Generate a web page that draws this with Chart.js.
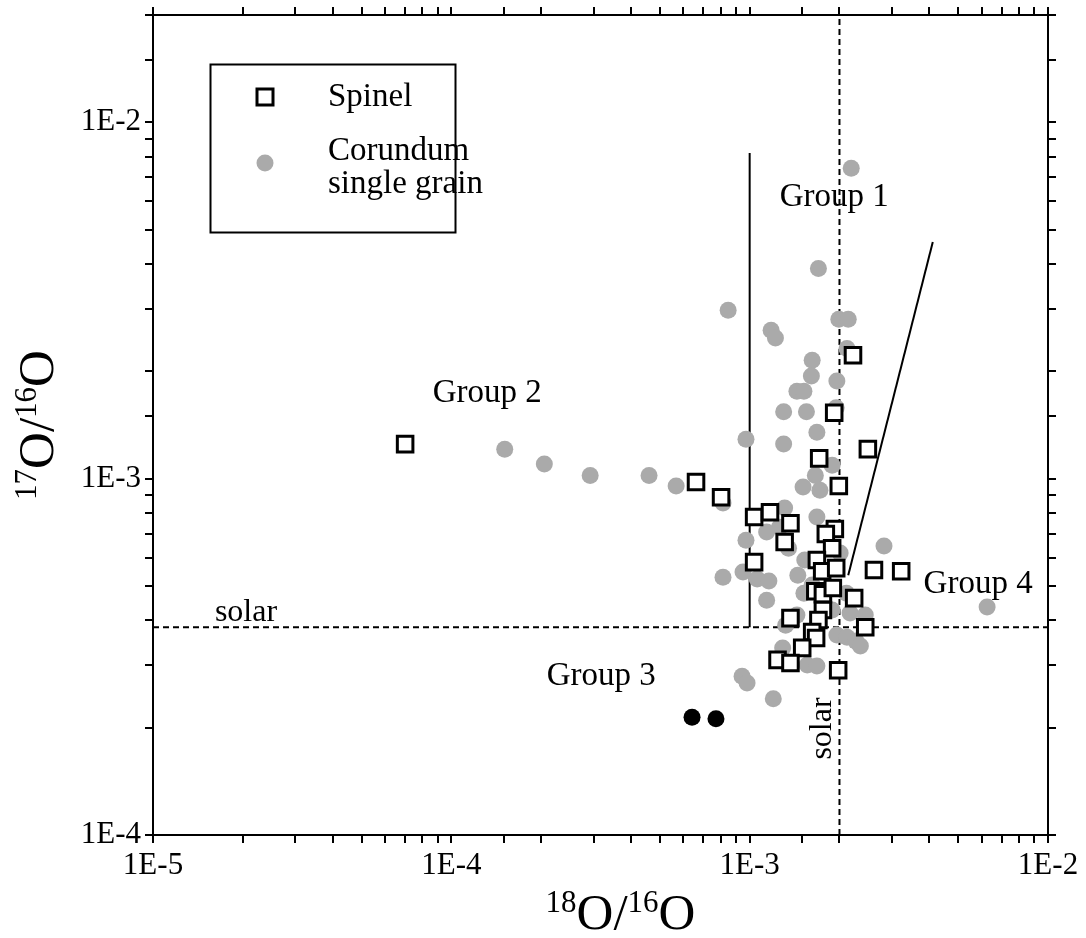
<!DOCTYPE html>
<html>
<head>
<meta charset="utf-8">
<script src="https://cdn.jsdelivr.net/npm/chart.js@4.4.0/dist/chart.umd.min.js"></script>
<style>
  html, body { margin: 0; padding: 0; background: #fff; }
</style>
</head>
<body>
<canvas id="myChart" width="1086" height="938"></canvas>
<script>
// spinel grains (open squares)
const spinelX = [7.0e-5, 2.22e-3, 1.92e-3, 2.49e-3, 1.71e-3, 1.99e-3, 6.61e-4, 8.02e-4, 1.035e-3, 1.17e-3,
  1.37e-3, 1.31e-3, 1.035e-3, 1.93e-3, 1.80e-3, 1.89e-3, 1.68e-3, 1.75e-3, 1.95e-3, 2.61e-3,
  3.22e-3, 1.66e-3, 1.76e-3, 1.90e-3, 2.24e-3, 1.76e-3, 1.37e-3, 1.70e-3, 2.44e-3, 1.62e-3,
  1.67e-3, 1.50e-3, 1.24e-3, 1.37e-3, 1.98e-3];
const spinelY = [1.25e-3, 2.22e-3, 1.53e-3, 1.21e-3, 1.14e-3, 9.53e-4, 9.78e-4, 8.87e-4, 7.80e-4, 8.05e-4,
  7.50e-4, 6.64e-4, 5.83e-4, 7.22e-4, 6.99e-4, 6.38e-4, 5.91e-4, 5.50e-4, 5.61e-4, 5.54e-4,
  5.50e-4, 4.83e-4, 4.74e-4, 4.93e-4, 4.62e-4, 4.28e-4, 4.06e-4, 4.01e-4, 3.83e-4, 3.71e-4,
  3.57e-4, 3.35e-4, 3.10e-4, 3.04e-4, 2.90e-4];

// corundum single grains (grey dots)
const corundumX = [1.51e-4, 2.05e-4, 2.92e-4, 4.60e-4, 5.67e-4, 2.19e-3, 1.70e-3, 8.47e-4, 1.18e-3, 1.22e-3,
  1.99e-3, 2.14e-3, 2.12e-3, 1.62e-3, 1.61e-3, 1.96e-3, 1.44e-3, 1.52e-3, 1.30e-3, 1.55e-3,
  1.95e-3, 1.68e-3, 9.72e-4, 1.30e-3, 1.89e-3, 1.66e-3, 1.51e-3, 1.72e-3, 8.14e-4, 1.31e-3,
  1.68e-3, 1.26e-3, 1.14e-3, 9.72e-4, 1.35e-3, 2.82e-3, 1.53e-3, 2.01e-3, 8.14e-4, 9.50e-4,
  1.06e-3, 1.16e-3, 1.45e-3, 1.62e-3, 1.14e-3, 1.52e-3, 2.11e-3, 2.17e-3, 2.44e-3, 1.89e-3,
  1.44e-3, 1.32e-3, 1.96e-3, 2.12e-3, 2.27e-3, 2.35e-3, 1.29e-3, 1.56e-3, 1.68e-3, 9.43e-4,
  9.80e-4, 1.20e-3, 6.25e-3];
const corundumY = [1.21e-3, 1.10e-3, 1.02e-3, 1.02e-3, 9.53e-4, 7.43e-3, 3.89e-3, 2.97e-3, 2.61e-3, 2.48e-3,
  2.80e-3, 2.80e-3, 2.32e-3, 2.15e-3, 1.94e-3, 1.88e-3, 1.76e-3, 1.76e-3, 1.54e-3, 1.54e-3,
  1.58e-3, 1.35e-3, 1.29e-3, 1.25e-3, 1.09e-3, 1.02e-3, 9.47e-4, 9.28e-4, 8.54e-4, 8.27e-4,
  7.80e-4, 7.31e-4, 7.08e-4, 6.72e-4, 6.38e-4, 6.47e-4, 5.91e-4, 6.18e-4, 5.29e-4, 5.47e-4,
  5.23e-4, 5.16e-4, 5.36e-4, 5.03e-4, 4.56e-4, 4.77e-4, 4.77e-4, 4.20e-4, 4.14e-4, 4.28e-4,
  4.14e-4, 3.88e-4, 3.64e-4, 3.59e-4, 3.50e-4, 3.39e-4, 3.35e-4, 3.00e-4, 2.98e-4, 2.79e-4,
  2.67e-4, 2.41e-4, 4.36e-4];

// group 3 grains (black dots)
const group3X = [6.41e-4, 7.71e-4];
const group3Y = [2.14e-4, 2.12e-4];

// solar ratios and group boundary lines
const solar18 = 2.0e-3;
const solar17 = 3.83e-4;
const boundaryAX = [1.0e-3, 1.0e-3];
const boundaryAY = [3.83e-4, 8.2e-3];
const boundaryBX = [2.14e-3, 4.11e-3];
const boundaryBY = [5.36e-4, 4.61e-3];

// axis ranges
const xRange = [1e-5, 1e-2];
const yRange = [1e-4, 2e-2];

// text labels placed in data space
const groupLabels = ['Group 1', 'Group 2', 'Group 3', 'Group 4'];
const groupLabelX = [1.92e-3, 1.32e-4, 3.18e-4, 5.83e-3];
const groupLabelY = [6.16e-3, 1.74e-3, 2.78e-4, 5.06e-4];

const pts = (xs, ys) => xs.map((x, i) => ({ x: x, y: ys[i] }));

const serif = 'Liberation Serif, Times New Roman, serif';
const grey = '#aaaaaa';

function decadeLabel(value) {
  const e = Math.log10(value);
  if (Math.abs(e - Math.round(e)) < 1e-6) return '1E' + Math.round(e);
  return '';
}

// draws text like 18O/16O with small raised digits
function drawSupText(ctx, parts, cx, baseline, big, small, rise) {
  let total = 0;
  parts.forEach(p => {
    ctx.font = (p.sup ? small : big) + 'px ' + serif;
    p.w = ctx.measureText(p.t).width;
    total += p.w;
  });
  let x = cx - total / 2;
  ctx.textAlign = 'left';
  ctx.textBaseline = 'alphabetic';
  parts.forEach(p => {
    ctx.font = (p.sup ? small : big) + 'px ' + serif;
    ctx.fillText(p.t, x, p.sup ? baseline - rise : baseline);
    x += p.w;
  });
}

const overlay = {
  id: 'overlay',
  afterDraw(chart) {
    const ctx = chart.ctx;
    const xs = chart.scales.x, ys = chart.scales.y, area = chart.chartArea;
    ctx.save();
    ctx.fillStyle = '#000';

    // group labels
    ctx.font = '33px ' + serif;
    ctx.textAlign = 'center';
    ctx.textBaseline = 'middle';
    groupLabels.forEach((t, i) => {
      ctx.fillText(t, xs.getPixelForValue(groupLabelX[i]), ys.getPixelForValue(groupLabelY[i]));
    });

    // solar labels
    ctx.font = '32px ' + serif;
    ctx.fillText('solar', xs.getPixelForValue(2.05e-5), ys.getPixelForValue(4.22e-4));
    ctx.save();
    ctx.translate(xs.getPixelForValue(1.75e-3), ys.getPixelForValue(1.99e-4));
    ctx.rotate(-Math.PI / 2);
    ctx.fillText('solar', 0, 0);
    ctx.restore();

    // legend box
    const lx = area.left + 57, ly = area.top + 49;
    ctx.strokeStyle = '#000';
    ctx.lineWidth = 2;
    ctx.strokeRect(lx + 0.5, ly + 0.5, 245, 168);
    ctx.lineWidth = 3;
    ctx.fillStyle = '#fff';
    ctx.fillRect(lx + 47, ly + 25, 16, 16);
    ctx.strokeRect(lx + 47, ly + 25, 16, 16);
    ctx.fillStyle = grey;
    ctx.beginPath();
    ctx.arc(lx + 55, ly + 99, 8.5, 0, Math.PI * 2);
    ctx.fill();
    ctx.fillStyle = '#000';
    ctx.font = '33px ' + serif;
    ctx.textAlign = 'left';
    ctx.fillText('Spinel', lx + 118, ly + 33);
    ctx.fillText('Corundum', lx + 118, ly + 87);
    ctx.fillText('single grain', lx + 118, ly + 120);

    // axis titles
    const xParts = [{ t: '18', sup: true }, { t: 'O' }, { t: '/' }, { t: '16', sup: true }, { t: 'O' }];
    drawSupText(ctx, xParts, (area.left + area.right) / 2 + 20, 929, 51, 31, 17);
    const yParts = [{ t: '17', sup: true }, { t: 'O' }, { t: '/' }, { t: '16', sup: true }, { t: 'O' }];
    ctx.save();
    ctx.translate(53, (area.top + area.bottom) / 2);
    ctx.rotate(-Math.PI / 2);
    drawSupText(ctx, yParts, 0, 0, 51, 31, 17);
    ctx.restore();

    ctx.restore();
  }
};

const grid = { display: true, drawOnChartArea: false, drawTicks: true, tickLength: 8, color: '#000', lineWidth: 2 };
const border = { display: true, color: '#000', width: 2 };

const ctx = document.getElementById('myChart');
new Chart(ctx, {
  type: 'scatter',
  data: {
    datasets: [
      {
        label: 'Spinel',
        data: pts(spinelX, spinelY),
        pointStyle: 'rect',
        pointRadius: 11,
        backgroundColor: '#fff',
        borderColor: '#000',
        borderWidth: 3
      },
      {
        label: 'Group 3',
        data: pts(group3X, group3Y),
        pointRadius: 8.5,
        backgroundColor: '#000',
        borderWidth: 0
      },
      {
        label: 'Corundum single grain',
        data: pts(corundumX, corundumY),
        pointRadius: 8.5,
        backgroundColor: grey,
        borderWidth: 0
      },
      {
        label: 'solar 17O/16O',
        data: pts(xRange, [solar17, solar17]),
        showLine: true, pointRadius: 0, borderColor: '#000', borderWidth: 2, borderDash: [6, 4]
      },
      {
        label: 'solar 18O/16O',
        data: pts([solar18, solar18], yRange),
        showLine: true, pointRadius: 0, borderColor: '#000', borderWidth: 2, borderDash: [6, 4]
      },
      {
        label: 'boundary A',
        data: pts(boundaryAX, boundaryAY),
        showLine: true, pointRadius: 0, borderColor: '#000', borderWidth: 2
      },
      {
        label: 'boundary B',
        data: pts(boundaryBX, boundaryBY),
        showLine: true, pointRadius: 0, borderColor: '#000', borderWidth: 2
      }
    ]
  },
  options: {
    responsive: false,
    animation: false,
    layout: { padding: 0 },
    plugins: {
      legend: { display: false },
      tooltip: { enabled: false }
    },
    scales: {
      x: {
        type: 'logarithmic', position: 'bottom', min: xRange[0], max: xRange[1],
        grid: grid, border: border,
        ticks: { autoSkip: false, maxRotation: 0, padding: 4, color: '#000', font: { family: serif, size: 31 }, callback: decadeLabel },
        afterFit: s => { s.height = 103; s.paddingLeft = 0; s.paddingRight = 0; }
      },
      x2: {
        type: 'logarithmic', axis: 'x', position: 'top', min: xRange[0], max: xRange[1],
        grid: grid, border: border,
        ticks: { autoSkip: false, callback: () => '' },
        afterFit: s => { s.height = 15; s.paddingLeft = 0; s.paddingRight = 0; }
      },
      y: {
        type: 'logarithmic', position: 'left', min: yRange[0], max: yRange[1],
        grid: grid, border: border,
        ticks: { autoSkip: false, padding: 4, color: '#000', font: { family: serif, size: 31 }, callback: decadeLabel },
        afterFit: s => { s.width = 153; s.paddingTop = 0; s.paddingBottom = 0; }
      },
      y2: {
        type: 'logarithmic', axis: 'y', position: 'right', min: yRange[0], max: yRange[1],
        grid: grid, border: border,
        ticks: { autoSkip: false, callback: () => '' },
        afterFit: s => { s.width = 38; s.paddingTop = 0; s.paddingBottom = 0; }
      }
    }
  },
  plugins: [overlay]
});
</script>
</body>
</html>
